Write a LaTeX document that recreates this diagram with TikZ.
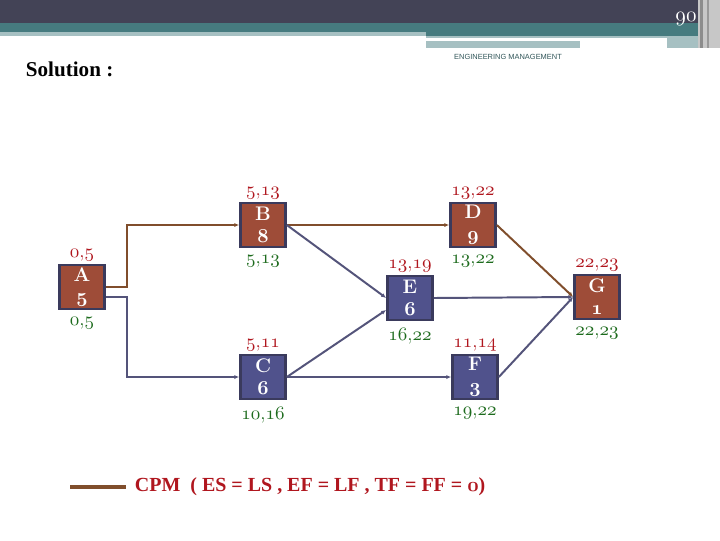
\documentclass[tikz,border=0pt]{standalone}
\usepackage{fontspec}
\usetikzlibrary{arrows.meta}
\newfontfamily\timesfont{Liberation Serif}
\newfontfamily\headfont{Liberation Sans}
% old style digits, as on the slide
\DeclareFontShape{OML}{cmm}{m}{it}{<->cmmi10}{}
\DeclareFontShape{OML}{cmm}{b}{it}{<->cmmib10}{}
\newcommand\osf[1]{{\usefont{OML}{cmm}{m}{it}#1}}
\newcommand\osfb[1]{{\usefont{OML}{cmm}{b}{it}#1}}
\newcommand\pair[2]{\osf{#1},\osf{#2}}
\definecolor{headdark}{RGB}{67,67,86}
\definecolor{headteal}{RGB}{70,123,127}
\definecolor{headlight}{RGB}{166,192,194}
\definecolor{critfill}{RGB}{158,76,56}
\definecolor{ncfill}{RGB}{80,82,140}
\definecolor{boxline}{RGB}{58,58,92}
\definecolor{critbrown}{RGB}{128,78,44}
\definecolor{ncslate}{RGB}{84,84,122}
\definecolor{esred}{RGB}{176,22,30}
\definecolor{lfgreen}{RGB}{29,107,29}
\begin{document}
\begin{tikzpicture}[x=0.025cm, y=-0.025cm,
  box/.style={draw=boxline, line width=2pt, minimum width=1.12cm, minimum height=1.1cm,
    inner sep=0pt, align=center, text=white, font=\fontsize{14}{15.5}\selectfont\bfseries},
  crit/.style={box, fill=critfill},
  noncrit/.style={box, fill=ncfill},
  es/.style={text=esred, font=\fontsize{13.5}{15}\selectfont, inner sep=1.5pt},
  lf/.style={text=lfgreen, font=\fontsize{13.5}{15}\selectfont, inner sep=1.5pt, yshift=-3pt},
  critline/.style={draw=critbrown, line width=1.4pt, -{Latex[length=3.5pt,width=3pt]}},
  ncline/.style={draw=ncslate, line width=1.4pt, -{Latex[length=3.5pt,width=3pt]}}]
  \useasboundingbox[fill=white] (0,0) rectangle (720,540);
  % slide header
  \fill[headdark] (0,0) rectangle (698,23);
  \fill[headteal] (0,23) rectangle (426,32);
  \fill[headteal] (426,23) rectangle (698,36);
  \fill[headlight] (0,32) rectangle (426,36);
  \fill[headlight] (426,36) rectangle (698,38);
  \fill[headlight] (426,41) rectangle (580,48);
  \fill[headlight] (667,36) rectangle (698,48);
  \fill[black!22] (698,0) rectangle (720,48);
  \fill[black!45] (700,0) rectangle (703,48);
  \fill[black!40] (707,0) rectangle (709,48);
  \node[anchor=base, text=white, font=\fontsize{15}{17}\selectfont] (page) at (686,21) {\osf{90}};
  \node[text=headteal!70!black, font=\headfont\fontsize{5.3}{6}\selectfont] (head) at (508,57)
    {ENGINEERING MANAGEMENT};
  \node[anchor=west, font=\timesfont\bfseries\fontsize{15}{18}\selectfont] (sol) at (21,69)
    {Solution :};
  % activities
  \node[crit, label={[es]above:\pair{0}{5}}, label={[lf]below:\pair{0}{5}}] (A) at (82,287)
    {A\\\osfb{5}};
  \node[crit, label={[es]above:\pair{5}{13}}, label={[lf]below:\pair{5}{13}}] (B) at (263,225)
    {B\\\osfb{8}};
  \node[noncrit, label={[es]above:\pair{5}{11}}, label={[lf]below:\pair{10}{16}}] (C) at (263,377)
    {C\\\osfb{6}};
  \node[crit, label={[es]above:\pair{13}{22}}, label={[lf]below:\pair{13}{22}}] (D) at (473,225)
    {D\\\osfb{9}};
  \node[noncrit, label={[es]above:\pair{13}{19}}, label={[lf]below:\pair{16}{22}}] (E) at (410,298)
    {E\\\osfb{6}};
  \node[noncrit, label={[es]above:\pair{11}{14}}, label={[lf]below:\pair{19}{22}}] (F) at (475,377)
    {F\\\osfb{3}};
  \node[crit, label={[es]above:\pair{22}{23}}, label={[lf]below:\pair{22}{23}}] (G) at (597,297)
    {G\\\osfb{1}};
  % links
  \draw[critline] (A.east) -- ++(21,0) |- (B.west);
  \draw[ncline] ([yshift=-7pt]A.east) -- ++(21,0) |- (C.west);
  \draw[critline] (B.east) -- (D.west);
  \draw[ncline] (B.east) -- (E.west);
  \draw[ncline] (C.east) -- ([yshift=-8.5pt]E.west);
  \draw[ncline] (C.east) -- (F.west);
  \draw[critline] (D.east) -- (G.west);
  \draw[ncline] (E.east) -- (G.west);
  \draw[ncline] (F.east) -- (G.west);
  % legend
  \coordinate (leg) at (70,487);
  \node[anchor=west, text=esred, font=\timesfont\bfseries\fontsize{14.2}{16}\selectfont] (key) at (130,487)
    {CPM\ \ ( ES = LS , EF = LF , TF = FF = \osfb{0})};
  \draw[draw=critbrown, line width=2.6pt] (leg) -- ([xshift=-3pt]key.west);
\end{tikzpicture}
\end{document}
